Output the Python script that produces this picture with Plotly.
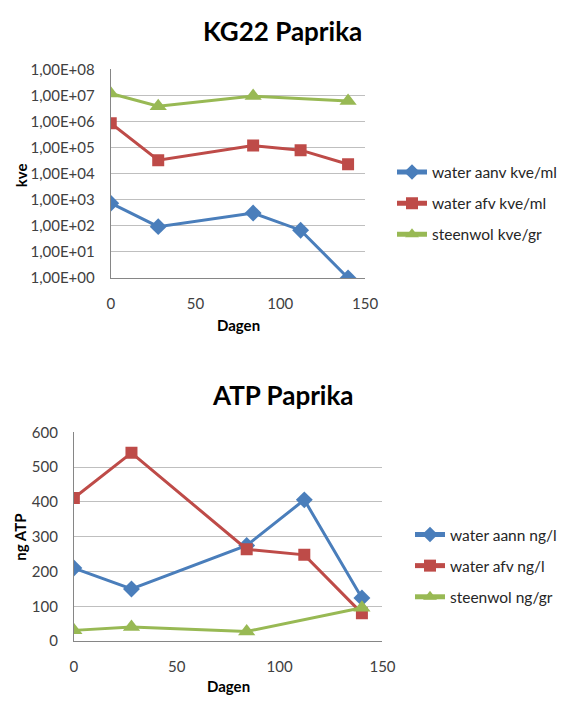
import plotly.graph_objects as go

# Bacterial counts (kve) over time, KG22 Paprika
days_kg = [0, 28, 84, 112, 140]
kg_water_aanv = [740, 93, 310, 68, 1]
kg_water_afv = [870000, 33000, 120000, 80000, 23000]
days_kg_steenwol = [0, 28, 84, 140]
kg_steenwol = [12000000, 3900000, 9500000, 6200000]

# ATP measurements over time, ATP Paprika
days_atp = [0, 28, 84, 112, 140]
atp_water_aann = [210, 150, 275, 406, 124]
atp_water_afv = [411, 541, 264, 248, 80]
days_atp_steenwol = [0, 28, 84, 140]
atp_steenwol = [31, 41, 28, 96]

log_tickvals = [1, 10, 100, 1e3, 1e4, 1e5, 1e6, 1e7, 1e8]
log_ticktext = ["1,00E+00", "1,00E+01", "1,00E+02", "1,00E+03", "1,00E+04",
                "1,00E+05", "1,00E+06", "1,00E+07", "1,00E+08"]

BLUE = "#4A7EBB"
RED = "#BE4B48"
GREEN = "#98B954"
FONT = "Lato, Open Sans, sans-serif"

fig = go.Figure()

def add_series(x, y, name, color, symbol, size, xa, ya, legend, group):
    fig.add_trace(go.Scatter(
        x=x, y=y, name=name, mode="lines+markers",
        line=dict(color=color, width=3),
        marker=dict(color=color, symbol=symbol, size=size),
        xaxis=xa, yaxis=ya, legend=legend, legendgroup=group,
    ))

add_series(days_kg, kg_water_aanv, "water aanv kve/ml", BLUE, "diamond", 13, "x", "y", "legend", "a1")
add_series(days_kg, kg_water_afv, "water afv kve/ml", RED, "square", 12, "x", "y", "legend", "b1")
add_series(days_kg_steenwol, kg_steenwol, "steenwol kve/gr", GREEN, "triangle-up", 15, "x", "y", "legend", "c1")

add_series(days_atp, atp_water_aann, "water aann ng/l", BLUE, "diamond", 13, "x2", "y2", "legend2", "a2")
add_series(days_atp, atp_water_afv, "water afv ng/l", RED, "square", 12, "x2", "y2", "legend2", "b2")
add_series(days_atp_steenwol, atp_steenwol, "steenwol ng/gr", GREEN, "triangle-up", 15, "x2", "y2", "legend2", "c2")

axis_common = dict(
    showline=True, linecolor="#868686", linewidth=1,
    ticks="", ticklabelstandoff=12,
    tickfont=dict(size=15, color="#404040", family=FONT),
    zeroline=False,
)

legend_common = dict(
    font=dict(size=15.5, color="#262626", family=FONT),
    bgcolor="rgba(0,0,0,0)", itemwidth=30, tracegroupgap=8,
    itemsizing="constant",
    xanchor="right", yanchor="middle",
)

def text_note(text, x, y, size, angle=0):
    return dict(text=text, x=x, y=y, xref="paper", yref="paper",
                showarrow=False, textangle=angle,
                font=dict(size=size, color="#000000", family=FONT),
                xanchor="center", yanchor="middle")

fig.update_layout(
    width=575, height=706,
    margin=dict(l=0, r=0, t=0, b=0),
    paper_bgcolor="white", plot_bgcolor="white",
    font=dict(family=FONT, color="#262626"),
    xaxis=dict(domain=[0.1913, 0.6470], range=[0, 150], dtick=50,
               showgrid=False, anchor="y", **axis_common),
    yaxis=dict(domain=[0.6105, 0.9136], type="log", range=[0, 8],
               tickvals=log_tickvals, ticktext=log_ticktext,
               showgrid=True, gridcolor="#BFBFBF", gridwidth=1, anchor="x",
               **axis_common),
    xaxis2=dict(domain=[0.1252, 0.6783], range=[0, 150], dtick=50,
                showgrid=False, anchor="y2", **axis_common),
    yaxis2=dict(domain=[0.0826, 0.3862], range=[0, 600], dtick=100,
                showgrid=True, gridcolor="#BFBFBF", gridwidth=1, anchor="x2",
                **axis_common),
    legend=dict(x=1.0, y=0.7188, **legend_common),
    legend2=dict(x=1.0, y=0.192, **legend_common),
    annotations=[
        text_note("<b>KG22 Paprika</b>", 287 / 575, 1 - 22 / 706, 26),
        text_note("<b>ATP Paprika</b>", 288 / 575, 1 - 395 / 706, 26),
        text_note("<b>kve</b>", 17 / 575, 1 - 169 / 706, 15, -90),
        text_note("<b>Dagen</b>", 242 / 575, 1 - 323 / 706, 15),
        text_note("<b>ng ATP</b>", 17 / 575, 1 - 541 / 706, 15, -90),
        text_note("<b>Dagen</b>", 231 / 575, 1 - 694 / 706, 15),
    ],
)

fig.write_html("out.html")
